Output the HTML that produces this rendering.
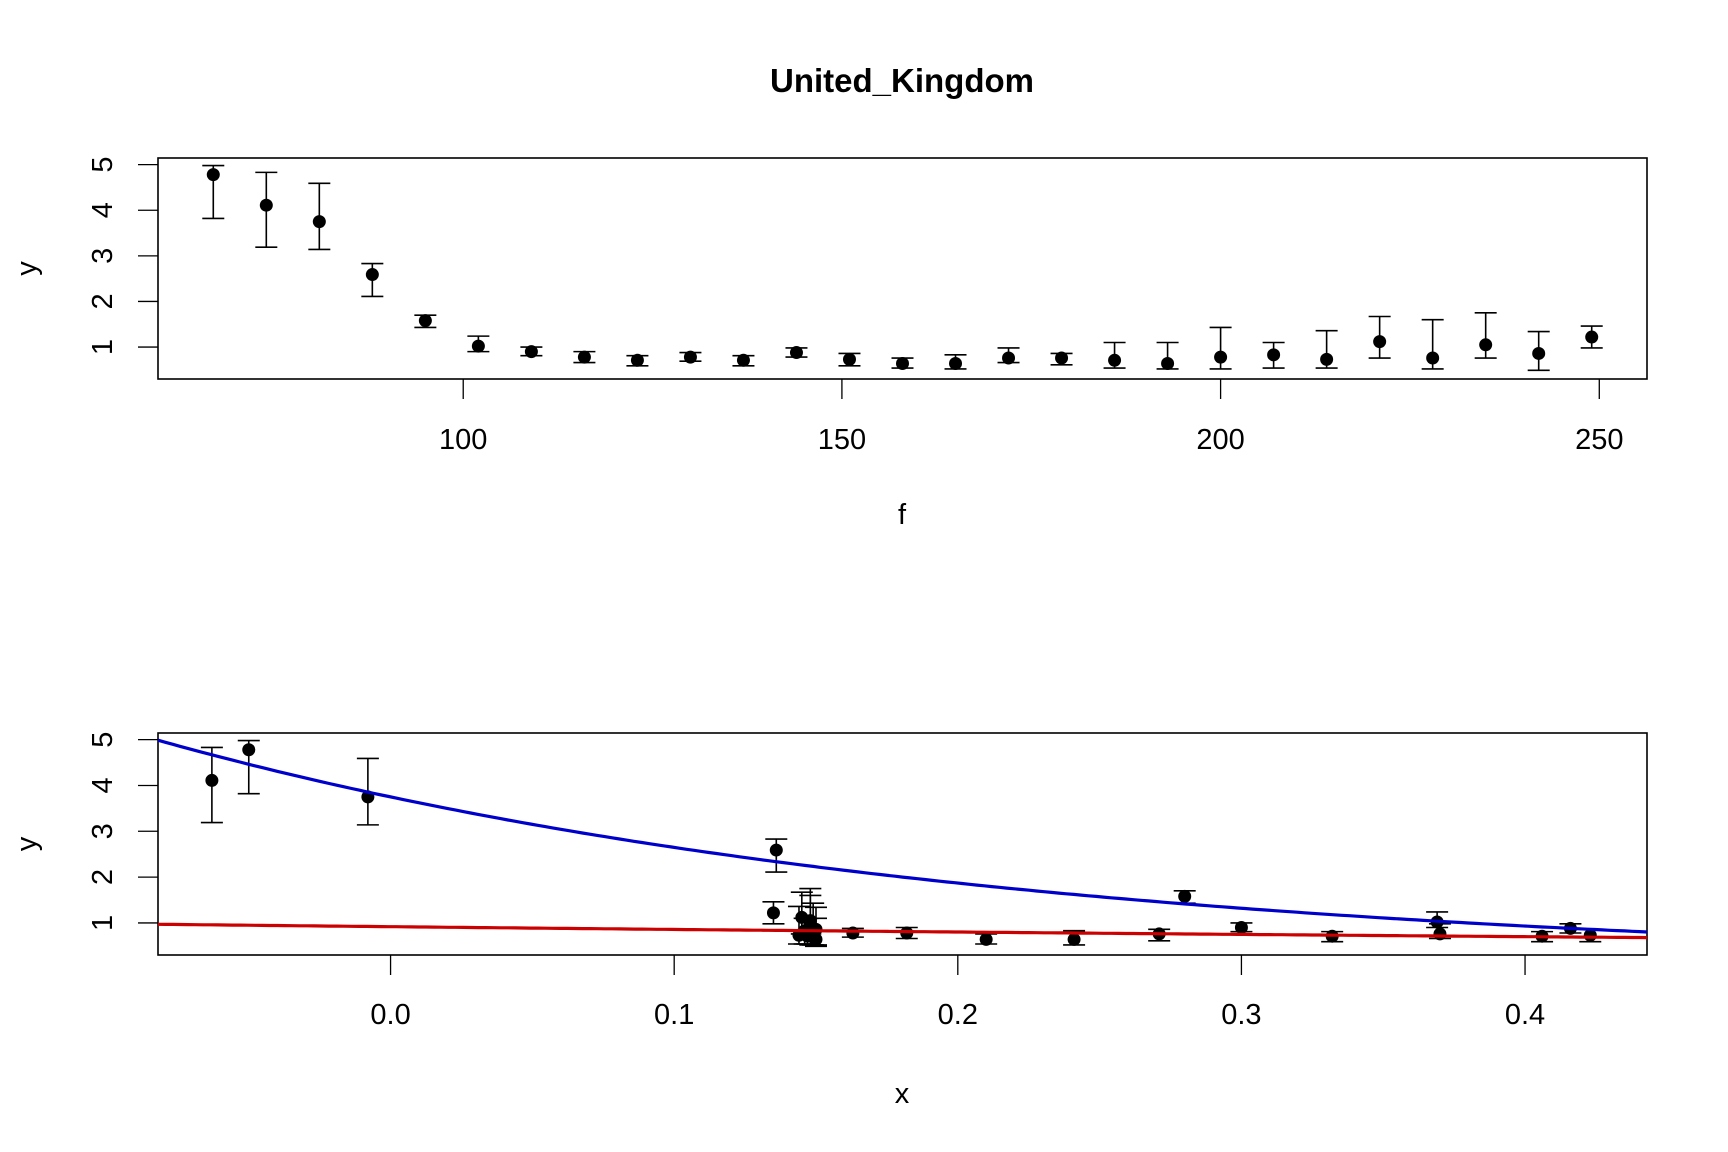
<!DOCTYPE html>
<html><head><meta charset="utf-8"><style>
html,body{margin:0;padding:0;background:#fff}
svg{display:block;font-family:"Liberation Sans",Arial,sans-serif}
</style></head><body>
<svg id="chart" width="1728" height="1152" viewBox="0 0 1728 1152" xmlns="http://www.w3.org/2000/svg">
<rect width="1728" height="1152" fill="#fff"/>
<text x="902" y="92" font-size="33" font-weight="bold" text-anchor="middle">United_Kingdom</text>
<g id="top"></g>
<g id="bot"></g>
</svg>
<script>
const fVals=[67,74,81,88,95,102,109,116,123,130,137,144,151,158,165,172,179,186,193,200,207,214,221,228,235,242,249];
const yVals=[4.78,4.11,3.75,2.59,1.58,1.02,0.90,0.78,0.71,0.78,0.71,0.88,0.73,0.64,0.64,0.76,0.76,0.71,0.64,0.78,0.83,0.73,1.12,0.76,1.05,0.86,1.22];
const yHi=[4.98,4.83,4.59,2.83,1.70,1.24,1.00,0.90,0.81,0.88,0.81,0.98,0.86,0.76,0.83,0.98,0.86,1.10,1.10,1.43,1.10,1.36,1.67,1.60,1.75,1.34,1.46];
const yLo=[3.82,3.19,3.14,2.11,1.43,0.90,0.81,0.66,0.59,0.69,0.59,0.78,0.59,0.54,0.52,0.66,0.61,0.54,0.52,0.52,0.54,0.54,0.76,0.52,0.76,0.49,0.98];
const xVals=[-0.050,-0.063,-0.008,0.136,0.280,0.369,0.300,0.182,0.332,0.163,0.406,0.416,0.423,0.210,0.241,0.370,0.271,0.147,0.150,0.149,0.146,0.144,0.145,0.148,0.148,0.150,0.135];
const fTicks=[100,150,200,250];
const xTicks=[0.0,0.1,0.2,0.3,0.4];
const xTickLabels=["0.0","0.1","0.2","0.3","0.4"];
const yTicks=[1,2,3,4,5];
const blueFit=[3.75,3.48];
const redFit=[0.918,0.677];

const NS="http://www.w3.org/2000/svg";
function mk(p,t,a){const e=document.createElementNS(NS,t);for(const k in a)e.setAttribute(k,a[k]);p.appendChild(e);return e;}
const L=158,R=1647;
function panel(g,top,bottom,xmin,xmax,ymin,ymax,xt,xtl,xlab,labY,axLabY){
  const sx=v=>L+(v-xmin)/(xmax-xmin)*(R-L);
  const sy=v=>bottom-(v-ymin)/(ymax-ymin)*(bottom-top);
  const box=mk(g,'rect',{x:L,y:top,width:R-L,height:bottom-top,fill:'none',stroke:'#000','stroke-width':1.6});
  
  
  xt.forEach((v,i)=>{
    const t=mk(g,'line',{x1:sx(v),x2:sx(v),y1:bottom,y2:bottom+20,stroke:'#000','stroke-width':1.3});
    
    
    const tx=mk(g,'text',{x:sx(v),y:labY,'font-size':29,'text-anchor':'middle'});
    tx.textContent=xtl[i];
    
    
  });
  yTicks.forEach(v=>{
    const t=mk(g,'line',{x1:L-20,x2:L,y1:sy(v),y2:sy(v),stroke:'#000','stroke-width':1.3});
    
    
    const tx=mk(g,'text',{x:0,y:0,'font-size':29,'text-anchor':'middle',transform:`translate(112,${sy(v)}) rotate(-90)`});
    tx.textContent=String(v);
    
    
  });
  const xl=mk(g,'text',{x:902,y:axLabY,'font-size':29,'text-anchor':'middle'});
  xl.textContent=xlab;
  
  
  const yl=mk(g,'text',{x:0,y:0,'font-size':29,'text-anchor':'middle',transform:`translate(36,${(top+bottom)/2}) rotate(-90)`});
  yl.textContent='y';
  
  
  return {sx,sy};
}
function points(g,xs,sx,sy){
  xs.forEach((xv,i)=>{
    const x=sx(xv);
    const eb=mk(g,'path',{d:`M${x},${sy(yHi[i])}V${sy(yLo[i])}M${x-11},${sy(yHi[i])}h22M${x-11},${sy(yLo[i])}h22`,stroke:'#000','stroke-width':1.6,fill:'none'});
    
    
    const c=mk(g,'circle',{cx:x,cy:sy(yVals[i]),r:6.5,fill:'#000'});
    
    
  });
}
const gt=document.getElementById('top');
const a=panel(gt,158,379,59.7,256.3,0.30,5.145,fTicks,fTicks.map(String),'f',449,524);
points(gt,fVals,a.sx,a.sy);
const gb=document.getElementById('bot');
const b=panel(gb,733,955,-0.082,0.443,0.30,5.145,xTicks,xTickLabels,'x',1024,1103);
points(gb,xVals,b.sx,b.sy);
function curve(p,color,name){
  let d='';
  for(let k=0;k<=200;k++){const xv=-0.082+k*(0.525/200);const yv=p[0]*Math.exp(-p[1]*xv);d+=(k?'L':'M')+b.sx(xv).toFixed(1)+','+b.sy(yv).toFixed(1);}
  const e=mk(gb,'path',{d,stroke:color,'stroke-width':3.2,fill:'none'});
  
  
}
curve(blueFit,'#0000cc','blue-fit-curve');
curve(redFit,'#cc0000','red-fit-curve');
</script>
</body></html>
